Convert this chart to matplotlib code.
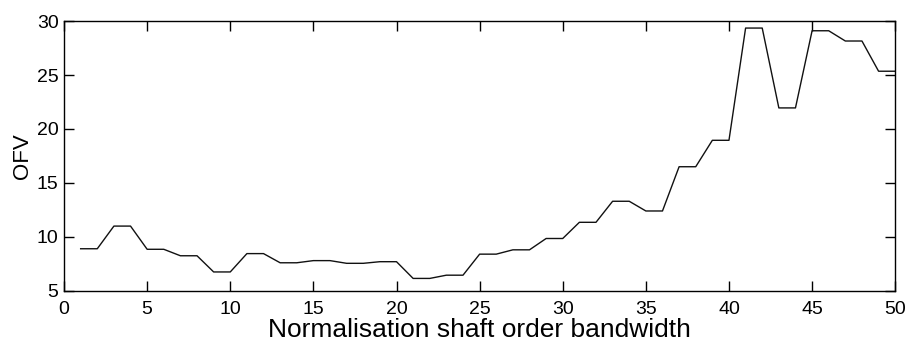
import numpy as np
import matplotlib
matplotlib.use('Agg')
import matplotlib.pyplot as plt

# OFV for each normalisation shaft order bandwidth (1..50)
bandwidth = np.arange(1, 51)
ofv = [8.9, 8.9, 11.0, 11.0, 8.85, 8.85, 8.25, 8.25, 6.75, 6.75,
       8.45, 8.45, 7.6, 7.6, 7.8, 7.8, 7.55, 7.55, 7.7, 7.7,
       6.15, 6.15, 6.45, 6.45, 8.4, 8.4, 8.8, 8.8, 9.85, 9.85,
       11.35, 11.35, 13.3, 13.3, 12.4, 12.4, 16.5, 16.5, 18.95, 18.95,
       29.35, 29.35, 21.95, 21.95, 29.1, 29.1, 28.15, 28.15, 25.35, 25.35]

plt.rcParams['font.family'] = ['Liberation Sans', 'DejaVu Sans']

fig = plt.figure(figsize=(9.07, 3.45), dpi=100)
ax = fig.add_axes([0.0706, 0.157, 0.9164, 0.782])

ax.plot(bandwidth, ofv, color='#111111', linewidth=1.0)

ax.set_xlim(0, 50)
ax.set_ylim(5, 30)
ax.set_xticks(np.arange(0, 51, 5))
ax.set_yticks(np.arange(5, 31, 5))
ax.tick_params(direction='in', length=7, width=1, top=True, right=True,
               labelsize=14)
ax.tick_params(axis='x', pad=7)
ax.tick_params(axis='y', pad=4)
for s in ax.spines.values():
    s.set_linewidth(1.0)

ax.set_xlabel('Normalisation shaft order bandwidth', fontsize=19, labelpad=0.5)
ax.set_ylabel('OFV', fontsize=16, labelpad=3)

fig.savefig('out.png', dpi=100)
